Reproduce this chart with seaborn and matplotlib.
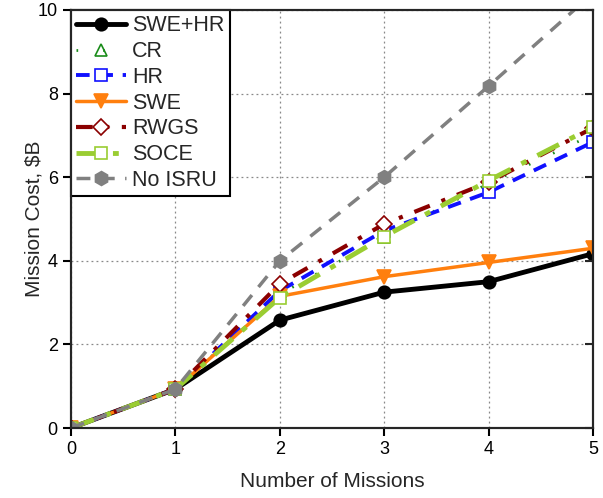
import matplotlib
matplotlib.use("Agg")
import matplotlib.pyplot as plt
import seaborn as sns
import pandas as pd

missions = [0, 1, 2, 3, 4, 5]
swe_hr = [0, 0.93, 2.58, 3.25, 3.50, 4.17]
cr = [0, 0.93, 3.20, 4.58, 5.85, 7.02]
hr = [0, 0.93, 3.28, 4.72, 5.64, 6.84]
swe = [0, 0.93, 3.15, 3.62, 3.96, 4.30]
rwgs = [0, 0.93, 3.45, 4.88, 5.88, 7.18]
soce = [0, 0.93, 3.12, 4.58, 5.92, 7.20]
no_isru = [0, 0.93, 4.00, 6.00, 8.18, 10.40]

series = ["SWE+HR", "CR", "HR", "SWE", "RWGS", "SOCE", "No ISRU"]
values = [swe_hr, cr, hr, swe, rwgs, soce, no_isru]

sns.set_style("ticks")
plt.rcParams["font.family"] = ["Liberation Sans", "DejaVu Sans"]

styles = {
    "SWE+HR": dict(color="black", lw=3.5, ls="-", marker="o", ms=9, mfc="black", mec="black"),
    "CR": dict(color="#1a8c1a", lw=2.0, ls=(0, (0.6, 9)), marker="^", ms=8, mfc="none", mec="#1a8c1a"),
    "HR": dict(color="#1010ff", lw=2.8, ls=(0, (3.5, 2.5)), marker="s", ms=8, mfc="white", mec="#1010ff"),
    "SWE": dict(color="#ff7f0e", lw=2.5, ls="-", marker="v", ms=10, mfc="#ff7f0e", mec="#ff7f0e"),
    "RWGS": dict(color="#8b0000", lw=3.0, ls=(0, (4, 3, 1, 3)), marker="D", ms=8, mfc="white", mec="#8b0000"),
    "SOCE": dict(color="#9acd32", lw=3.5, ls=(0, (5, 2.5, 1.2, 2.5)), marker="s", ms=8, mfc="white", mec="#9acd32"),
    "No ISRU": dict(color="#808080", lw=2.5, ls=(0, (4, 3)), marker="h", ms=10, mfc="#808080", mec="#808080"),
}

fig = plt.figure(figsize=(6.03, 4.98), dpi=100)
ax = fig.add_axes([71 / 603, 1 - 428 / 498, (593 - 71) / 603, (428 - 10) / 498])

for name, vals in zip(series, values):
    df = pd.DataFrame({"x": missions, "y": vals})
    st = styles[name]
    sns.lineplot(data=df, x="x", y="y", ax=ax, color=st["color"], lw=st["lw"],
                 marker=st["marker"], markersize=st["ms"], markerfacecolor=st["mfc"],
                 markeredgecolor=st["mec"], markeredgewidth=1.2, label=name)
    ax.lines[-1].set_linestyle(st["ls"])

ax.set_xlim(0, 5)
ax.set_ylim(0, 10)
ax.set_xticks(range(0, 6))
ax.set_yticks(range(0, 11, 2))
ax.grid(True, color="#888888", ls=(0, (1.5, 2.5)), lw=0.9)
ax.set_axisbelow(True)
for sp in ax.spines.values():
    sp.set_linewidth(1.5)
    sp.set_color("black")
ax.tick_params(axis="both", direction="out", length=6, width=1.5, labelsize=13, colors="black")
ax.set_xlabel("Number of Missions", fontsize=15, labelpad=10)
ax.set_ylabel("Mission Cost, $B", fontsize=15, labelpad=-4)

ax2 = ax.twinx()
ax2.set_ylim(0, 10)
ax2.set_yticks(range(0, 11, 2))
ax2.tick_params(axis="y", direction="in", length=6, width=1.5, labelright=False)
for sp in ax2.spines.values():
    sp.set_linewidth(1.5)

leg = ax.legend(loc="upper left", bbox_to_anchor=(0, 1), fontsize=15.5, frameon=True,
                fancybox=False, edgecolor="black", handlelength=2.3, borderpad=0.25,
                labelspacing=0.22, handletextpad=0.3, borderaxespad=0.0)
leg.get_frame().set_linewidth(1.5)
leg.get_frame().set_alpha(1)

fig.savefig("out.png", dpi=100)
